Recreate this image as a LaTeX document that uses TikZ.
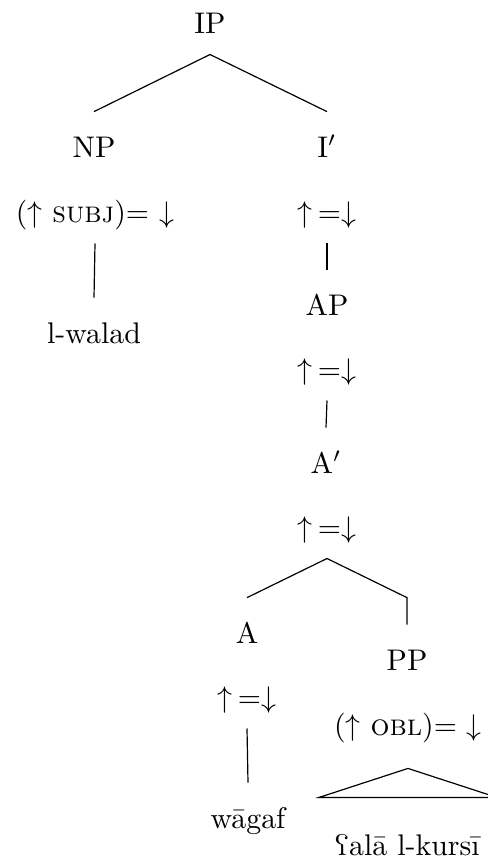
\documentclass[tikz,border=0pt]{standalone}
\usepackage{tipa}

\begin{document}
\begin{tikzpicture}[x=0.335pt, y=-0.335pt,
    cat/.style={inner sep=0pt, anchor=base, text height=15pt, text depth=7pt},
    roof/.style={line width=0.4pt}]
    \useasboundingbox (0,0) rectangle (487,857);

    % categories and annotations
    \node[cat] (ip) at (210,33) {IP};
    \node[cat] (np) at (94,157) {NP};
    \node[cat] (ibar) at (327,157) {I$'$};
    \node[cat] (subj) at (95,222) {($\uparrow$ \textsc{subj})= $\downarrow$};
    \node[cat] (eqi) at (327,222) {$\uparrow$\,=$\downarrow$};
    \node[cat] (walad) at (94,343) {l-walad};
    \node[cat] (ap) at (327,315) {AP};
    \node[cat] (eqap) at (327,379) {$\uparrow$\,=$\downarrow$};
    \node[cat] (abar) at (326,473) {A$'$};
    \node[cat] (eqabar) at (327,537) {$\uparrow$\,=$\downarrow$};
    \node[cat] (a) at (247,643) {A};
    \node[cat] (pp) at (407,670) {PP};
    \node[cat] (eqa) at (247,707) {$\uparrow$\,=$\downarrow$};
    \node[cat] (obl) at (408,735) {($\uparrow$ \textsc{obl})= $\downarrow$};
    \node[cat] (wagaf) at (248,828) {wāgaf};
    \node[cat] (alal) at (407,855) {\textrevglotstop alā l-kursī};

    % branches
    \draw (ip.south) -- (np.north);
    \draw (ip.south) -- (ibar.north);
    \draw (subj.south) -- (walad.north);
    \draw (eqi.south) -- (ap.north);
    \draw (eqap.south) -- (abar.north);
    \draw (eqabar.south) -- (a.north);
    \draw (eqabar.south) -- (pp.north |- a.north) -- (pp.north);
    \draw (eqa.south) -- (wagaf.north);
    \draw[roof] ([yshift=-4pt]obl.south) coordinate (top)
        -- ++(-89,29) coordinate (left) -- ++(178,0) coordinate (right) -- cycle;
\end{tikzpicture}
\end{document}
